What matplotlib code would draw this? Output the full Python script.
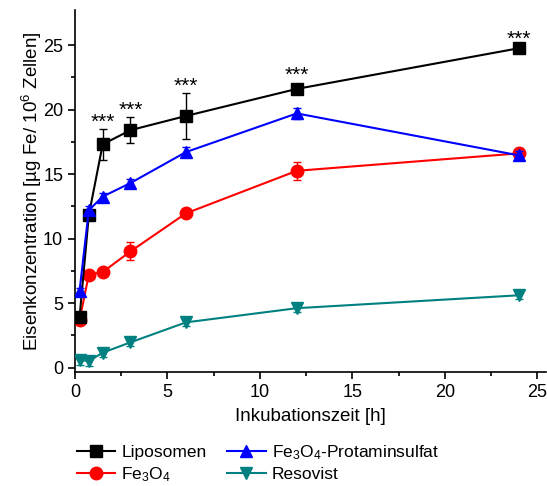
import numpy as np
import matplotlib
matplotlib.use('Agg')
import matplotlib.pyplot as plt

plt.rcParams['font.family'] = ['Liberation Sans', 'DejaVu Sans']
plt.rcParams['mathtext.default'] = 'regular'

t = [0.25, 0.75, 1.5, 3, 6, 12, 24]

lipo = [3.9, 11.8, 17.3, 18.4, 19.5, 21.6, 24.75]
lipo_err = [0.4, 0.4, 1.2, 1.0, 1.8, 0.25, 0.15]

fe3o4 = [3.65, 7.2, 7.4, 9.0, 11.95, 15.25, 16.6]
fe3o4_err = [0.3, 0.2, 0.2, 0.7, 0.2, 0.7, 0.45]

prot = [5.95, 12.2, 13.25, 14.3, 16.7, 19.7, 16.45]
prot_err = [0.2, 0.3, 0.3, 0.3, 0.4, 0.4, 0.3]

reso = [0.6, 0.5, 1.15, 1.95, 3.5, 4.6, 5.6]
reso_err = [0.4, 0.4, 0.3, 0.3, 0.3, 0.3, 0.3]

# significance marks (baseline of the text, data units)
stars_x = [1.5, 3, 6, 12, 24]
stars_y = [18.6, 19.5, 21.4, 22.2, 25.0]

fig = plt.figure(figsize=(5.47, 4.86), dpi=100)
ax = fig.add_axes([0.137, 0.235, 0.862, 0.744])

series = [
    (lipo, lipo_err, 'black', 's', 8, 'Liposomen', 5),
    (fe3o4, fe3o4_err, '#ff0000', 'o', 9, r'Fe$_3$O$_4$', 4),
    (prot, prot_err, '#0000ff', '^', 9, r'Fe$_3$O$_4$-Protaminsulfat', 6),
    (reso, reso_err, '#008080', 'v', 9, 'Resovist', 3),
]
handles = []
labels = []
for y, e, c, m, ms, lab, z in series:
    eb = ax.errorbar(t, y, yerr=e, color=c, marker=m, ms=ms, lw=1.5,
                     capsize=3, elinewidth=1, zorder=z)
    handles.append(eb[0])
    labels.append(lab)

for x, y in zip(stars_x, stars_y):
    ax.text(x, y, '***', ha='center', va='baseline', fontsize=15)

ax.set_xlim(0, 25.5)
ax.set_ylim(-0.33, 27.7)
ax.set_xticks([0, 5, 10, 15, 20, 25])
ax.set_xticks(np.arange(2.5, 25, 5), minor=True)
ax.set_yticks([0, 5, 10, 15, 20, 25])
ax.set_yticks(np.arange(2.5, 27, 5), minor=True)
ax.tick_params(which='major', length=5, width=1.2, labelsize=13)
ax.tick_params(which='minor', length=3, width=1.2)
for s in ['top', 'right']:
    ax.spines[s].set_visible(False)
for s in ['left', 'bottom']:
    ax.spines[s].set_linewidth(1.2)

ax.set_xlabel('Inkubationszeit [h]', fontsize=13.5, labelpad=5)
ax.set_ylabel(r'Eisenkonzentration [µg Fe/ 10$^6$ Zellen]', fontsize=13.5, labelpad=-1)

fig.legend(handles, labels, loc='lower left', bbox_to_anchor=(0.128, -0.01), ncol=2,
           frameon=False, fontsize=12.5, handlelength=2.2, handletextpad=0.35,
           columnspacing=1.2, labelspacing=0.3, borderaxespad=0)

fig.savefig('out.png', dpi=100)
